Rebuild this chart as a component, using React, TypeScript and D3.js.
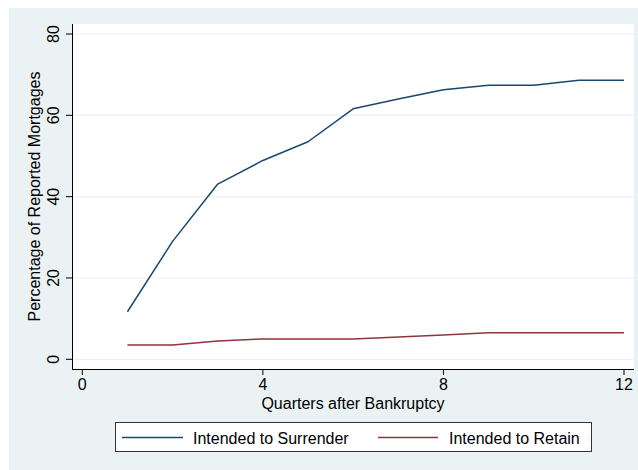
import React from "react";
import * as d3 from "d3";

// Quarters after bankruptcy filing and the share of reported mortgages by stated intention
const quarters = [1, 2, 3, 4, 5, 6, 7, 8, 9, 10, 11, 12];
const surrender = [11.7, 29.0, 43.1, 48.9, 53.5, 61.6, 64.0, 66.3, 67.4, 67.4, 68.6, 68.6];
const retain = [3.5, 3.5, 4.5, 5.0, 5.0, 5.0, 5.5, 6.0, 6.5, 6.5, 6.5, 6.5];

const xTicks = [0, 4, 8, 12];
const yTicks = [0, 20, 40, 60, 80];

const seriesNames = ["Intended to Surrender", "Intended to Retain"];
const seriesColors = ["#1a476f", "#90353b"];

const W = 638;
const H = 470;
const FONT = "'Liberation Sans', Arial, sans-serif";

export default function App() {
  const plot = { left: 72, right: 634, top: 24, bottom: 369 };
  const x = d3.scaleLinear().domain([0, 12]).range([82.3, 624]);
  const y = d3.scaleLinear().domain([0, 80]).range([359.3, 34]);

  const line = d3
    .line<number>()
    .x((_, i) => x(quarters[i]))
    .y((d) => y(d));

  const series = [surrender, retain];
  const plotMid = (plot.left + plot.right) / 2;
  const plotMidY = (plot.top + plot.bottom) / 2;

  return (
    <svg
      width={W}
      height={H}
      style={{ position: "absolute", left: 0, top: 0 }}
      fontFamily={FONT}
    >
      <rect x={0} y={0} width={W} height={H} fill="#ffffff" />
      <rect x={9} y={8} width={W - 9} height={H - 8} fill="#eaf2f3" />
      <rect
        x={plot.left}
        y={plot.top}
        width={plot.right - plot.left}
        height={plot.bottom - plot.top}
        fill="#ffffff"
      />

      {/* horizontal gridlines */}
      {yTicks.map((t) => (
        <line
          key={`g${t}`}
          x1={plot.left}
          x2={plot.right}
          y1={y(t)}
          y2={y(t)}
          stroke="#eaf2f3"
          strokeWidth={1.2}
        />
      ))}

      {/* series */}
      {series.map((s, i) => (
        <path
          key={seriesNames[i]}
          d={line(s) || ""}
          fill="none"
          stroke={seriesColors[i]}
          strokeWidth={1.5}
          strokeLinejoin="round"
        />
      ))}

      {/* y axis */}
      <line x1={plot.left + 0.5} x2={plot.left + 0.5} y1={plot.top} y2={plot.bottom} stroke="#000" strokeWidth={1} />
      {yTicks.map((t) => (
        <g key={`y${t}`}>
          <line x1={66} x2={plot.left} y1={y(t)} y2={y(t)} stroke="#000" strokeWidth={1} />
          <text
            transform={`translate(58.5,${y(t)}) rotate(-90)`}
            textAnchor="middle"
            fontSize={16}
            fill="#000"
          >
            {t}
          </text>
        </g>
      ))}
      <text
        transform={`translate(39.5,${plotMidY}) rotate(-90)`}
        textAnchor="middle"
        fontSize={16}
        fill="#000"
      >
        Percentage of Reported Mortgages
      </text>

      {/* x axis */}
      <line x1={plot.left} x2={plot.right} y1={plot.bottom + 0.5} y2={plot.bottom + 0.5} stroke="#000" strokeWidth={1} />
      {xTicks.map((t) => (
        <g key={`x${t}`}>
          <line x1={x(t)} x2={x(t)} y1={plot.bottom} y2={375} stroke="#000" strokeWidth={1} />
          <text x={x(t)} y={390} textAnchor="middle" fontSize={16} fill="#000">
            {t}
          </text>
        </g>
      ))}
      <text x={plotMid} y={409} textAnchor="middle" fontSize={16} fill="#000">
        Quarters after Bankruptcy
      </text>

      {/* legend */}
      <rect x={115.5} y={422.5} width={476} height={29} fill="#ffffff" stroke="#333" strokeWidth={1} />
      <line x1={122} x2={183} y1={437.5} y2={437.5} stroke={seriesColors[0]} strokeWidth={1.5} />
      <text x={193} y={443.5} fontSize={16} fill="#000">
        {seriesNames[0]}
      </text>
      <line x1={378} x2={438} y1={437.5} y2={437.5} stroke={seriesColors[1]} strokeWidth={1.5} />
      <text x={449} y={443.5} fontSize={16} fill="#000">
        {seriesNames[1]}
      </text>
    </svg>
  );
}
